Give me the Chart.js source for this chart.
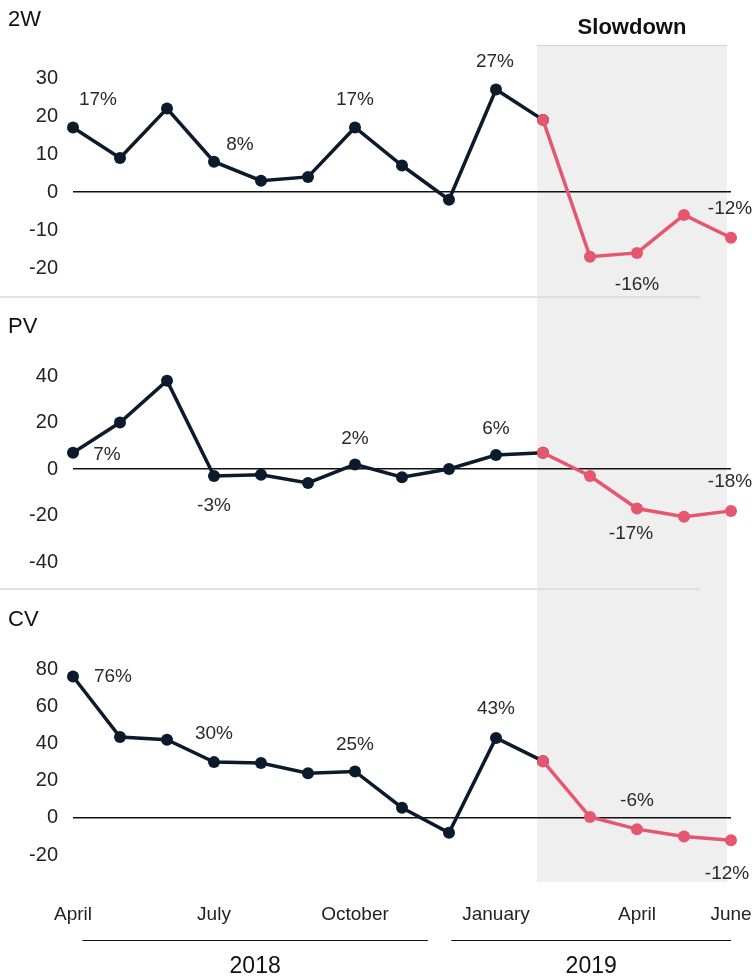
<!DOCTYPE html>
<html>
<head>
<meta charset="utf-8">
<script src="https://cdn.jsdelivr.net/npm/chart.js@4.4.0/dist/chart.umd.min.js"></script>
<style>
  body { margin: 0; background: #fff; }
  #wrap { width: 752px; height: 977px; }
</style>
</head>
<body>
<div id="wrap"><canvas id="growthChart" width="752" height="977"></canvas></div>
<script>
// months from April 2018 to June 2019
const months = ['April', 'May', 'June', 'July', 'August', 'September', 'October', 'November', 'December',
                'January', 'February', 'March', 'April', 'May', 'June'];
const shownMonths = [0, 3, 6, 9, 12, 14];
const panels = ['2W', 'PV', 'CV'];
const growth2W = [17, 9, 22, 8, 3, 4, 17, 7, -2, 27, 19, -17, -16, -6, -12];
const growthPV = [7, 20, 38, -3, -2.5, -6, 2, -3.5, 0, 6, 7, -3, -17, -20.5, -18];
const growthCV = [76, 43.5, 42, 30, 29.5, 24, 25, 5.5, -8, 43, 30.5, 0.5, -6, -10, -12];
const ticks2W = [-20, -10, 0, 10, 20, 30];
const ticksPV = [-40, -20, 0, 20, 40];
const ticksCV = [-20, 0, 20, 40, 60, 80];
const labelledPoints = [0, 3, 6, 9, 12, 14];
const slowdownStart = 10; // February 2019
const years = ['2018', '2019'];

const NAVY = '#0b1b2b';
const PINK = '#e5566f';

const series = [growth2W, growthPV, growthCV];
const tickSets = [ticks2W, ticksPV, ticksCV];
const axisRange = [[-27.6, 38.7], [-51.6, 74], [-34.4, 123]];
const panelHeights = [252, 292, 293];
const titleOffset = [-25, 30, 31];
const yearSpans = [[0.2, 7.55], [8.05, 14]];
// label offsets from the point, per panel
const labelOffsets = [
    [[25, -28], [26, -17], [0, -28], [-1, -28], [0, 32], [-1, -29]],
    [[34, 2], [0, 30], [0, -26], [0, -26], [-6, 25], [-1, -29]],
    [[40, 0], [0, -28], [0, -27], [0, -29], [0, -28], [-4, 33]]
];

Chart.defaults.font.family = "'Liberation Sans', Arial, sans-serif";

const datasets = [];
series.forEach((vals, p) => {
    const common = {
        yAxisID: 'y' + p,
        borderWidth: 3.5,
        pointRadius: 6,
        pointHoverRadius: 6,
        pointBorderWidth: 0,
        tension: 0,
        spanGaps: false
    };
    datasets.push(Object.assign({}, common, {
        label: panels[p] + ' slowdown',
        data: vals.map((v, i) => i >= slowdownStart ? v : null),
        borderColor: PINK,
        backgroundColor: PINK,
        pointBackgroundColor: PINK,
        order: 0
    }));
    datasets.push(Object.assign({}, common, {
        label: panels[p],
        data: vals.map((v, i) => i <= slowdownStart ? v : null),
        borderColor: NAVY,
        backgroundColor: NAVY,
        pointBackgroundColor: NAVY,
        order: 1
    }));
});

const scales = {
    x: {
        type: 'category',
        grid: { display: false },
        border: { display: false },
        ticks: {
            autoSkip: false,
            maxRotation: 0,
            padding: 13,
            color: '#222',
            font: { size: 19 },
            callback: (v, i) => shownMonths.includes(i) ? months[i] : ''
        },
        afterFit: s => {
            s.height = 44;
            s.paddingLeft = 0;
            s.paddingRight = 0;
        }
    }
};
panels.forEach((name, p) => {
    scales['y' + p] = {
        type: 'linear',
        position: 'left',
        stack: 'panels',
        stackWeight: panelHeights[p],
        weight: 3 - p,
        min: axisRange[p][0],
        max: axisRange[p][1],
        afterBuildTicks: s => { s.ticks = tickSets[p].map(v => ({ value: v })); },
        afterFit: s => { s.width = 73; },
        grid: {
            drawTicks: false,
            lineWidth: 1.5,
            color: c => (c.tick && c.tick.value === 0) ? '#111' : 'rgba(0,0,0,0)'
        },
        border: { display: false },
        ticks: { autoSkip: false, padding: 15, color: '#222', font: { size: 20 } }
    };
});

const decorations = {
    id: 'decorations',
    beforeDraw(chart) {
        const ctx = chart.ctx;
        const area = chart.chartArea;
        const x = chart.scales.x;
        const left = x.getPixelForValue(slowdownStart) - 6;
        const right = x.getPixelForValue(months.length - 1) - 4;
        ctx.save();
        ctx.fillStyle = '#efefef';
        ctx.fillRect(left, area.top, right - left, area.bottom - area.top);
        ctx.strokeStyle = '#d2d2d2';
        ctx.lineWidth = 1;
        ctx.beginPath();
        ctx.moveTo(left, area.top + 0.5);
        ctx.lineTo(right, area.top + 0.5);
        ctx.stroke();

        ctx.fillStyle = '#111';
        ctx.font = "bold 22px 'Liberation Sans', Arial, sans-serif";
        ctx.textAlign = 'center';
        ctx.textBaseline = 'middle';
        ctx.fillText('Slowdown', (left + right) / 2, area.top - 17);

        // separators between panels
        ctx.strokeStyle = '#dadada';
        ctx.lineWidth = 1.5;
        for (let p = 0; p < panels.length - 1; p++) {
            const yb = chart.scales['y' + p].bottom;
            ctx.beginPath();
            ctx.moveTo(0, yb);
            ctx.lineTo(area.right - 31, yb);
            ctx.stroke();
        }

        // panel titles
        ctx.fillStyle = '#111';
        ctx.font = "22px 'Liberation Sans', Arial, sans-serif";
        ctx.textAlign = 'left';
        for (let p = 0; p < panels.length; p++) {
            ctx.fillText(panels[p], 8, chart.scales['y' + p].top + titleOffset[p]);
        }

        // year brackets
        ctx.strokeStyle = '#111';
        ctx.lineWidth = 1;
        ctx.font = "23px 'Liberation Sans', Arial, sans-serif";
        ctx.textAlign = 'center';
        years.forEach((yr, k) => {
            const x0 = x.getPixelForValue(yearSpans[k][0]);
            const x1 = x.getPixelForValue(yearSpans[k][1]);
            const ly = area.bottom + 58;
            ctx.beginPath();
            ctx.moveTo(x0, ly + 0.5);
            ctx.lineTo(x1, ly + 0.5);
            ctx.stroke();
            ctx.fillText(yr, (x0 + x1) / 2, area.bottom + 85);
        });
        ctx.restore();
    },
    afterDatasetsDraw(chart) {
        const ctx = chart.ctx;
        const x = chart.scales.x;
        ctx.save();
        ctx.fillStyle = '#2a2a2a';
        ctx.font = "19px 'Liberation Sans', Arial, sans-serif";
        ctx.textAlign = 'center';
        ctx.textBaseline = 'middle';
        series.forEach((vals, p) => {
            const y = chart.scales['y' + p];
            labelledPoints.forEach((i, k) => {
                const off = labelOffsets[p][k];
                ctx.fillText(vals[i] + '%', x.getPixelForValue(i) + off[0], y.getPixelForValue(vals[i]) + off[1]);
            });
        });
        ctx.restore();
    }
};

const ctx = document.getElementById('growthChart').getContext('2d');
const growthChart = new Chart(ctx, {
    type: 'line',
    data: { labels: months, datasets: datasets },
    options: {
        responsive: false,
        animation: false,
        layout: { padding: { top: 45, right: 21, bottom: 51, left: 0 } },
        plugins: { legend: { display: false }, tooltip: { enabled: false } },
        scales: scales
    },
    plugins: [decorations]
});
</script>
</body>
</html>
